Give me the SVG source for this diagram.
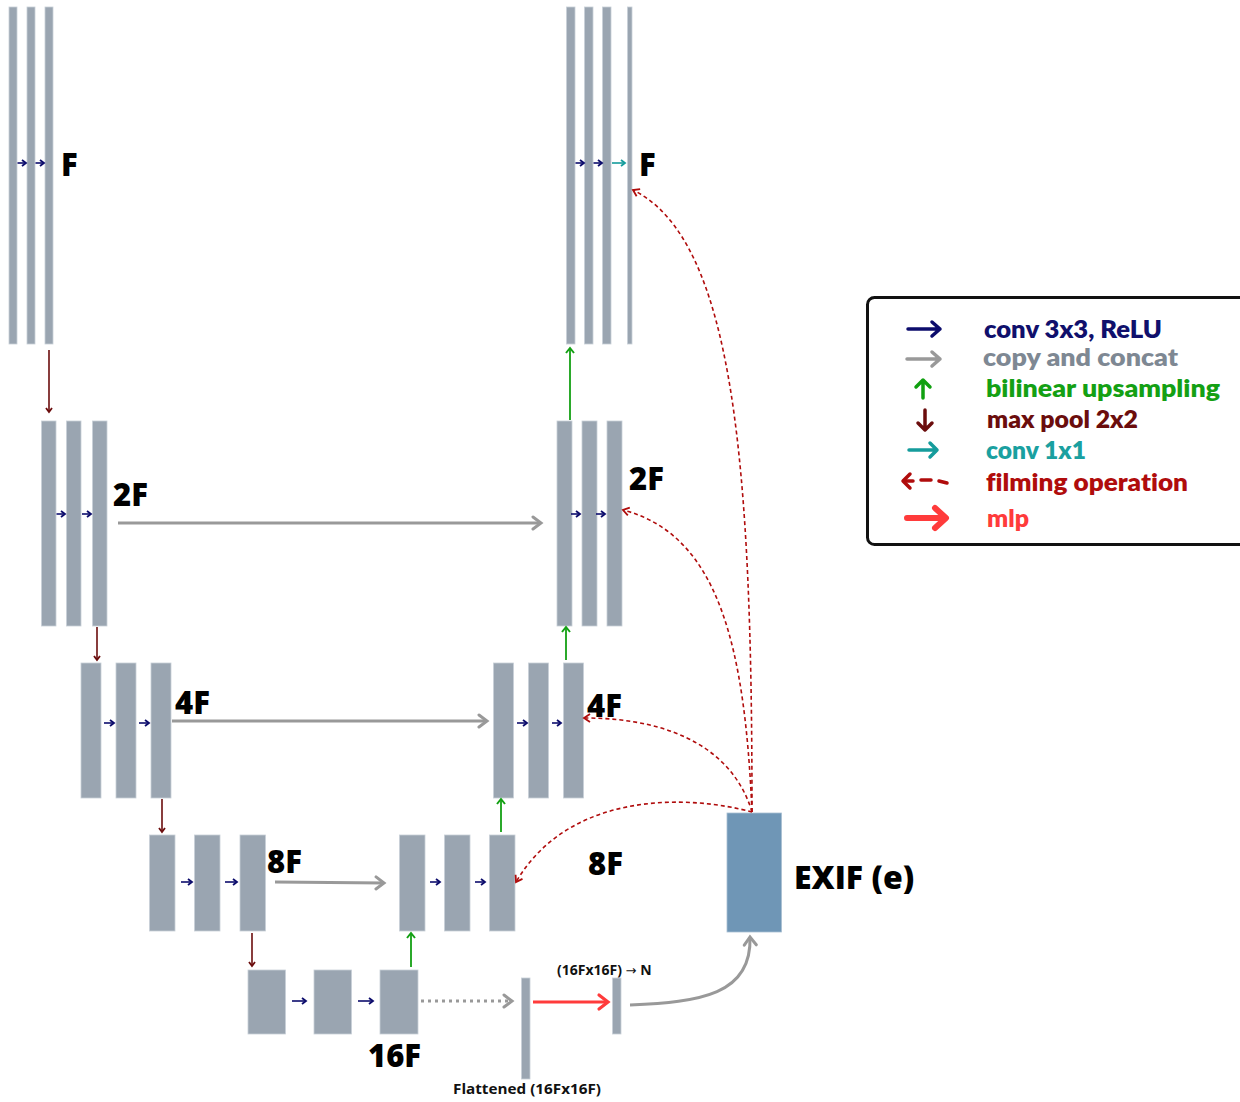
<svg xmlns="http://www.w3.org/2000/svg" width="1240" height="1102" viewBox="0 0 1240 1102">
<style>
.b{fill:#9aa5b1;stroke:#c9d0d7;stroke-width:0.8}
.lbl{font-family:"Open Sans","Noto Sans",sans-serif;font-weight:800;fill:#000}
.sm{font-family:"Open Sans","Noto Sans",sans-serif;font-weight:700;fill:#111}
.lg{font-family:Lato,"Noto Sans",sans-serif;font-weight:800;font-size:24px}
.cv{stroke:#0c0c6c;stroke-width:1.6;fill:none}
.mp{stroke:#6b0d0d;stroke-width:1.6;fill:none}
.up{stroke:#13a013;stroke-width:1.8;fill:none}
.cp{stroke:#999;stroke-width:3;fill:none}
.fl{stroke:#b00c0c;stroke-width:1.6;fill:none;stroke-dasharray:4 3}
</style>
<defs>
<marker id="aN" markerUnits="userSpaceOnUse" markerWidth="10" markerHeight="10" refX="5" refY="4" orient="auto"><path d="M1,1 L5,4 L1,7" fill="none" stroke="#0c0c6c" stroke-width="1.8"/></marker>
<marker id="aT" markerUnits="userSpaceOnUse" markerWidth="10" markerHeight="10" refX="5" refY="4" orient="auto"><path d="M1,1 L5,4 L1,7" fill="none" stroke="#159c9c" stroke-width="1.8"/></marker>
<marker id="aM" markerUnits="userSpaceOnUse" markerWidth="10" markerHeight="10" refX="5" refY="4" orient="auto"><path d="M1,1 L5,4 L1,7" fill="none" stroke="#6b0d0d" stroke-width="1.8"/></marker>
<marker id="aU" markerUnits="userSpaceOnUse" markerWidth="12" markerHeight="12" refX="6" refY="5" orient="auto"><path d="M1,1 L6,5 L1,9" fill="none" stroke="#13a013" stroke-width="2"/></marker>
<marker id="aG" markerUnits="userSpaceOnUse" markerWidth="16" markerHeight="16" refX="10" refY="8" orient="auto"><path d="M2,2 L10,8 L2,14" fill="none" stroke="#999" stroke-width="3" stroke-linecap="round"/></marker>
<marker id="aF" markerUnits="userSpaceOnUse" markerWidth="12" markerHeight="12" refX="7" refY="5" orient="auto"><path d="M1,1 L7,5 L1,9" fill="none" stroke="#b00c0c" stroke-width="1.8"/></marker>
<marker id="aR" markerUnits="userSpaceOnUse" markerWidth="20" markerHeight="20" refX="12" refY="10" orient="auto"><path d="M3,3 L12,10 L3,17" fill="none" stroke="#ff3b3b" stroke-width="3.2" stroke-linecap="round"/></marker>
</defs>

<g id="enc-F">
<rect class="b" x="9" y="7" width="8" height="337"/>
<rect class="b" x="27" y="7" width="8" height="337"/>
<rect class="b" x="45" y="7" width="8" height="337"/>
<text class="lbl" x="61" y="176" font-size="31">F</text>
</g>
<g id="enc-2F">
<rect class="b" x="41.5" y="421" width="14.5" height="205"/>
<rect class="b" x="66.5" y="421" width="14.5" height="205"/>
<rect class="b" x="92.5" y="421" width="14.5" height="205"/>
<text class="lbl" x="113" y="506" font-size="31">2F</text>
</g>
<g id="enc-4F">
<rect class="b" x="81" y="663" width="20" height="135"/>
<rect class="b" x="116" y="663" width="20" height="135"/>
<rect class="b" x="151" y="663" width="20" height="135"/>
<text class="lbl" x="175" y="714" font-size="31">4F</text>
</g>
<g id="enc-8F">
<rect class="b" x="149.5" y="835" width="25.5" height="96"/>
<rect class="b" x="194.5" y="835" width="25.5" height="96"/>
<rect class="b" x="240" y="835" width="25.5" height="96"/>
<text class="lbl" x="267" y="873" font-size="31">8F</text>
</g>
<g id="bottleneck-16F">
<rect class="b" x="248" y="970" width="37.5" height="64"/>
<rect class="b" x="314" y="970" width="37.5" height="64"/>
<rect class="b" x="380" y="970" width="38" height="64"/>
<text class="lbl" x="368" y="1067" font-size="31">16F</text>
</g>
<g id="flattened">
<rect class="b" x="521.5" y="978" width="8.5" height="101"/>
<text class="sm" x="527" y="1094" font-size="14.5" text-anchor="middle" textLength="148" lengthAdjust="spacingAndGlyphs">Flattened (16Fx16F)</text>
</g>
<g id="mlp-out">
<rect class="b" x="612.5" y="978" width="8.5" height="56"/>
<text class="sm" x="557" y="975" font-size="14">(16Fx16F) <tspan font-family="'DejaVu Sans',sans-serif" font-weight="400" font-size="13">→</tspan> N</text>
</g>
<g id="dec-8F">
<rect class="b" x="399.5" y="835" width="25.5" height="96"/>
<rect class="b" x="444.5" y="835" width="25.5" height="96"/>
<rect class="b" x="489.5" y="835" width="25.5" height="96"/>
<text class="lbl" x="588" y="875" font-size="31">8F</text>
</g>
<g id="dec-4F">
<rect class="b" x="493.5" y="663" width="20" height="135"/>
<rect class="b" x="528.5" y="663" width="20" height="135"/>
<rect class="b" x="563.5" y="663" width="20" height="135"/>
<text class="lbl" x="587" y="717" font-size="31">4F</text>
</g>
<g id="dec-2F">
<rect class="b" x="557" y="421" width="15" height="205"/>
<rect class="b" x="582" y="421" width="15" height="205"/>
<rect class="b" x="607" y="421" width="15" height="205"/>
<text class="lbl" x="629" y="490" font-size="31">2F</text>
</g>
<g id="dec-F">
<rect class="b" x="566.5" y="7" width="8.5" height="337"/>
<rect class="b" x="584.5" y="7" width="8.5" height="337"/>
<rect class="b" x="602.5" y="7" width="8.5" height="337"/>
<rect class="b" x="627.5" y="7" width="4.5" height="337"/>
<text class="lbl" x="639" y="176" font-size="31">F</text>
</g>
<g id="exif">
<rect x="727" y="813" width="54.5" height="119" fill="#6f96b6" stroke="#a9bfd2" stroke-width="0.8"/>
<text class="lbl" x="794" y="889" font-size="32">EXIF (e)</text>
</g>

<g id="connectors">
<path class="cv" marker-end="url(#aN)" d="M17.5 163H26"/>
<path class="cv" marker-end="url(#aN)" d="M35.5 163H44"/>
<path class="cv" marker-end="url(#aN)" d="M56.5 514H65"/>
<path class="cv" marker-end="url(#aN)" d="M82 514H91"/>
<path class="cv" marker-end="url(#aN)" d="M104 723H114"/>
<path class="cv" marker-end="url(#aN)" d="M139 723H149"/>
<path class="cv" marker-end="url(#aN)" d="M181 882H192"/>
<path class="cv" marker-end="url(#aN)" d="M225 882H237"/>
<path class="cv" marker-end="url(#aN)" d="M430 882H440"/>
<path class="cv" marker-end="url(#aN)" d="M475 882H485"/>
<path class="cv" marker-end="url(#aN)" d="M517 723H527"/>
<path class="cv" marker-end="url(#aN)" d="M552 723H561"/>
<path class="cv" marker-end="url(#aN)" d="M571 514H580"/>
<path class="cv" marker-end="url(#aN)" d="M596 514H605"/>
<path class="cv" marker-end="url(#aN)" d="M575.5 163H584"/>
<path class="cv" marker-end="url(#aN)" d="M593.5 163H602"/>
<path class="cv" stroke-width="2" marker-end="url(#aN)" d="M292 1001H306"/>
<path class="cv" stroke-width="2" marker-end="url(#aN)" d="M358 1001H373"/>
<path stroke="#159c9c" stroke-width="1.6" fill="none" marker-end="url(#aT)" d="M612 163H625"/>
<path class="mp" marker-end="url(#aM)" d="M49 350V412"/>
<path class="mp" marker-end="url(#aM)" d="M97 627V660"/>
<path class="mp" marker-end="url(#aM)" d="M162 799V832"/>
<path class="mp" marker-end="url(#aM)" d="M252 933V966"/>
<path class="up" marker-end="url(#aU)" d="M411 967V933"/>
<path class="up" marker-end="url(#aU)" d="M501 832V799"/>
<path class="up" marker-end="url(#aU)" d="M566 660V627"/>
<path class="up" marker-end="url(#aU)" d="M570 420V348"/>
<path class="cp" marker-end="url(#aG)" d="M118 523H541"/>
<path class="cp" marker-end="url(#aG)" d="M172 721H487"/>
<path class="cp" marker-end="url(#aG)" d="M275 882L384 883"/>
<path class="cp" stroke-dasharray="3 4" marker-end="url(#aG)" d="M421 1001H512"/>
<path stroke="#ff3b3b" stroke-width="3" fill="none" marker-end="url(#aR)" d="M533 1002H608"/>
<path class="cp" marker-end="url(#aG)" d="M630 1005C700 1002 752 995 750 937"/>
<path class="fl" marker-end="url(#aF)" d="M752 812C752 470 735 240 633 190"/>
<path class="fl" marker-end="url(#aF)" d="M752 812C745 650 720 535 623 510"/>
<path class="fl" marker-end="url(#aF)" d="M752 812C735 755 680 718 584 718"/>
<path class="fl" marker-end="url(#aF)" d="M752 812C690 795 570 790 516 882"/>
</g>

<g id="legend">
<rect x="867.5" y="297.5" width="390" height="247" rx="7" fill="#fff" stroke="#111" stroke-width="3"/>
<path d="M908 329H940M932 322L940 329L932 336" stroke="#0c0c6c" stroke-width="3.5" fill="none" stroke-linecap="round" stroke-linejoin="round"/>
<text class="lg" x="984" y="338" fill="#10106c" textLength="178" lengthAdjust="spacingAndGlyphs">conv 3x3, ReLU</text>
<path d="M907 359H940M932 352L940 359L932 366" stroke="#999" stroke-width="3.5" fill="none" stroke-linecap="round" stroke-linejoin="round"/>
<text class="lg" x="983" y="366" fill="#7e8893" textLength="195" lengthAdjust="spacingAndGlyphs">copy and concat</text>
<path d="M923 398V380M916 387L923 380L930 387" stroke="#10a010" stroke-width="3.5" fill="none" stroke-linecap="round" stroke-linejoin="round"/>
<text class="lg" x="986" y="397" fill="#14a014" textLength="234" lengthAdjust="spacingAndGlyphs">bilinear upsampling</text>
<path d="M925 410V430M918 423L925 430L932 423" stroke="#6b0d0d" stroke-width="3.5" fill="none" stroke-linecap="round" stroke-linejoin="round"/>
<text class="lg" x="987" y="428" fill="#6b0d0d" textLength="151" lengthAdjust="spacingAndGlyphs">max pool 2x2</text>
<path d="M909 450H937M930 443L937 450L930 457" stroke="#159c9c" stroke-width="3.5" fill="none" stroke-linecap="round" stroke-linejoin="round"/>
<text class="lg" x="986" y="459" fill="#1aa0a0" textLength="100" lengthAdjust="spacingAndGlyphs">conv 1x1</text>
<path d="M904 481H913M921 480H931M939 481L947 483" stroke="#b00c0c" stroke-width="3.5" fill="none" stroke-linecap="round"/>
<path d="M910 474L903 481L910 488" stroke="#b00c0c" stroke-width="3.5" fill="none" stroke-linecap="round" stroke-linejoin="round"/>
<text class="lg" x="986" y="491" fill="#b00c0c" textLength="202" lengthAdjust="spacingAndGlyphs" style="font-variant-ligatures:none">filming operation</text>
<path d="M907 518H944M935 508L946 518L935 528" stroke="#ff3b3b" stroke-width="6" fill="none" stroke-linecap="round" stroke-linejoin="round"/>
<text class="lg" x="987" y="527" fill="#ff3b3b" textLength="42" lengthAdjust="spacingAndGlyphs">mlp</text>
</g>
</svg>
